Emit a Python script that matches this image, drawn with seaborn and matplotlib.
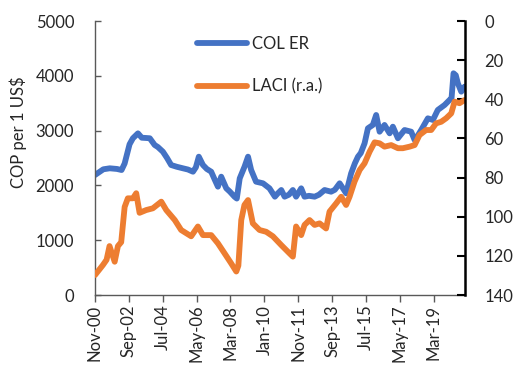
import matplotlib
matplotlib.use("Agg")
import matplotlib.pyplot as plt
import matplotlib.dates as mdates
import numpy as np
import pandas as pd
import seaborn as sns

# Colombian peso per US dollar (left axis)
er_dates = ["2000-11-01", "2001-04-15", "2001-08-20", "2002-01-10", "2002-04-10",
            "2002-06-10", "2002-09-15", "2002-11-20", "2003-02-28", "2003-05-15",
            "2003-08-10", "2003-10-20", "2004-01-25", "2004-03-28", "2004-07-05",
            "2004-09-25", "2004-12-15", "2005-04-05", "2005-08-05", "2005-11-12",
            "2006-02-20", "2006-04-18", "2006-06-15", "2006-09-05", "2006-11-20",
            "2007-02-15", "2007-04-28", "2007-06-28", "2007-09-01", "2007-12-10",
            "2008-02-20", "2008-05-20", "2008-07-05", "2008-09-01", "2008-12-05",
            "2009-02-12", "2009-04-15", "2009-07-20", "2009-12-05", "2010-04-12",
            "2010-07-28", "2010-09-25", "2010-12-01", "2011-02-05", "2011-05-01",
            "2011-07-18", "2011-09-20", "2011-12-30", "2012-03-05", "2012-06-01",
            "2012-09-20", "2012-12-15", "2013-04-05", "2013-08-12", "2013-10-25",
            "2014-01-28", "2014-04-01", "2014-06-05", "2014-09-12", "2014-11-25",
            "2015-01-25", "2015-03-22", "2015-06-05", "2015-08-10", "2015-11-15",
            "2016-01-20", "2016-03-28", "2016-07-03", "2016-10-12", "2016-12-15",
            "2017-03-25", "2017-08-03", "2017-12-12", "2018-02-18", "2018-04-03",
            "2018-06-28", "2018-11-07", "2019-02-15", "2019-05-22", "2019-10-03",
            "2020-01-10", "2020-02-18", "2020-03-28", "2020-05-12", "2020-06-22",
            "2020-08-28", "2020-11-01"]
er_values = [2190, 2294, 2312, 2300, 2281,
             2400, 2750, 2860, 2950, 2870,
             2865, 2860, 2737, 2700, 2615,
             2500, 2372, 2340, 2312, 2290,
             2250, 2330, 2524, 2372, 2300,
             2250, 2100, 1977, 2159, 1947,
             1885, 1794, 1760, 2129, 2342,
             2524, 2281, 2068, 2038, 1947,
             1794, 1856, 1916, 1794, 1830,
             1916, 1794, 1947, 1794, 1810,
             1794, 1830, 1916, 1885, 1920,
             2038, 1950, 1856, 2220, 2403,
             2524, 2590, 2768, 3042, 3103,
             3285, 2980, 3103, 2950, 3072,
             2860, 3011, 2980, 2829, 2880,
             3011, 3224, 3194, 3376, 3467,
             3559, 3590, 4046, 4010, 3863,
             3710, 3802]

# Latin American currency index (right axis, inverted)
laci_dates = ["2000-11-01", "2001-04-06", "2001-06-18", "2001-08-15", "2001-11-25",
              "2002-01-28", "2002-04-03", "2002-06-10", "2002-08-12", "2002-11-20",
              "2003-01-25", "2003-04-01", "2003-08-10", "2003-12-20", "2004-06-03",
              "2004-09-10", "2005-02-25", "2005-07-01", "2006-01-15", "2006-05-28",
              "2006-09-05", "2007-02-15", "2007-06-28", "2007-11-06", "2008-03-15",
              "2008-06-25", "2008-08-05", "2008-10-01", "2008-12-03", "2009-02-12",
              "2009-05-18", "2009-09-28", "2010-02-06", "2010-06-18", "2010-12-01",
              "2011-05-12", "2011-07-18", "2011-09-20", "2011-12-30", "2012-03-05",
              "2012-06-12", "2012-09-20", "2012-12-28", "2013-05-05", "2013-07-12",
              "2013-11-20", "2014-02-28", "2014-06-05", "2014-08-12", "2014-11-18",
              "2015-02-28", "2015-06-05", "2015-09-12", "2015-12-20", "2016-03-28",
              "2016-07-03", "2016-11-12", "2017-03-25", "2017-07-01", "2017-11-12",
              "2018-02-18", "2018-05-25", "2018-10-03", "2019-01-12", "2019-04-18",
              "2019-07-28", "2019-11-03", "2020-02-12", "2020-04-18", "2020-07-25",
              "2020-11-01"]
laci_values = [129.8, 124.7, 122, 115, 123,
               115, 113, 95, 90.6, 90.6,
               88, 98, 96.6, 95.7, 92.3,
               96.6, 101.7, 106.8, 110, 105,
               109.4, 109.4, 113.6, 118.7, 123.8,
               128, 125, 101.7, 94, 91.5,
               103.4, 106.8, 107.7, 110, 114.5,
               118.7, 120.4, 105, 109.4, 104.2,
               101.7, 104.2, 103.4, 106, 97.4,
               93.2, 89.8, 94, 89.8, 82.1,
               76.1, 72.7, 66.8, 62, 62.5,
               64.2, 63.4, 65, 65, 64.2,
               63.4, 58.3, 55.7, 55.7, 52.3,
               51.5, 49.7, 47.2, 41.2, 42,
               40.4]

tick_dates = ["2000-11", "2002-09", "2004-07", "2006-05", "2008-03", "2010-01",
              "2011-11", "2013-09", "2015-07", "2017-05", "2019-03"]

er_df = pd.DataFrame({"date": pd.to_datetime(er_dates), "value": er_values})
laci_df = pd.DataFrame({"date": pd.to_datetime(laci_dates), "value": laci_values})

sns.set_theme(style="white")
plt.rcParams["font.family"] = ["Lato", "DejaVu Sans"]

BLUE = "#4472C4"
ORANGE = "#ED7D31"
GREY = "#595959"
TEXT = "#262626"

fig = plt.figure(figsize=(5.18, 3.73), dpi=100)
ax = fig.add_axes([95 / 518, 78 / 373, 370 / 518, 274 / 373])

sns.lineplot(data=er_df, x="date", y="value", ax=ax, color=BLUE, lw=4.2,
             label="COL ER", legend=False)
ax2 = ax.twinx()
sns.lineplot(data=laci_df, x="date", y="value", ax=ax2, color=ORANGE, lw=4.2,
             label="LACI (r.a.)", legend=False)

ax.set_xlim(pd.Timestamp("2000-11-01"), pd.Timestamp("2020-11-10"))
ax.set_ylim(0, 5000)
ax.set_yticks(np.arange(0, 5001, 1000))
ax2.set_ylim(140, 0)
ax2.set_yticks(np.arange(0, 141, 20))

ax.set_xticks(pd.to_datetime(tick_dates))
ax.xaxis.set_major_formatter(mdates.DateFormatter("%b-%y"))
for lbl in ax.get_xticklabels():
    lbl.set_rotation(90)

ax.set_xlabel("")
ax.set_ylabel("COP per 1 US$", fontsize=12, color=TEXT)
ax.yaxis.set_label_coords(-0.185, 0.595)
ax2.set_ylabel("")

for a in (ax, ax2):
    a.spines["top"].set_visible(False)
ax.spines["left"].set_color(GREY)
ax.spines["bottom"].set_color(GREY)
ax.spines["left"].set_linewidth(1.0)
ax.spines["bottom"].set_linewidth(1.0)
ax.spines["right"].set_visible(False)
ax2.spines["left"].set_visible(False)
ax2.spines["bottom"].set_visible(False)
ax2.spines["right"].set_color("black")
ax2.spines["right"].set_linewidth(1.8)

ax.tick_params(axis="x", direction="out", length=5, width=1, color=GREY,
               labelsize=12, labelcolor=TEXT, pad=2, bottom=True)
ax.tick_params(axis="y", direction="in", length=4, width=1, color=GREY,
               labelsize=12, labelcolor=TEXT, pad=15, left=True)
ax2.tick_params(axis="y", direction="in", length=6, width=1.5, color="black",
                labelsize=12, labelcolor=TEXT, pad=14, right=True)

ax2.set_zorder(ax.get_zorder() + 1)
ax2.patch.set_visible(False)
handles = ax.get_lines()[:1] + ax2.get_lines()[:1]
ax2.legend(handles, ["COL ER", "LACI (r.a.)"], loc="upper left",
           bbox_to_anchor=(0.235, 1.0), frameon=False, fontsize=12,
           handlelength=3.0, labelspacing=1.6, handletextpad=0.3)

fig.savefig("out.png", dpi=100)
